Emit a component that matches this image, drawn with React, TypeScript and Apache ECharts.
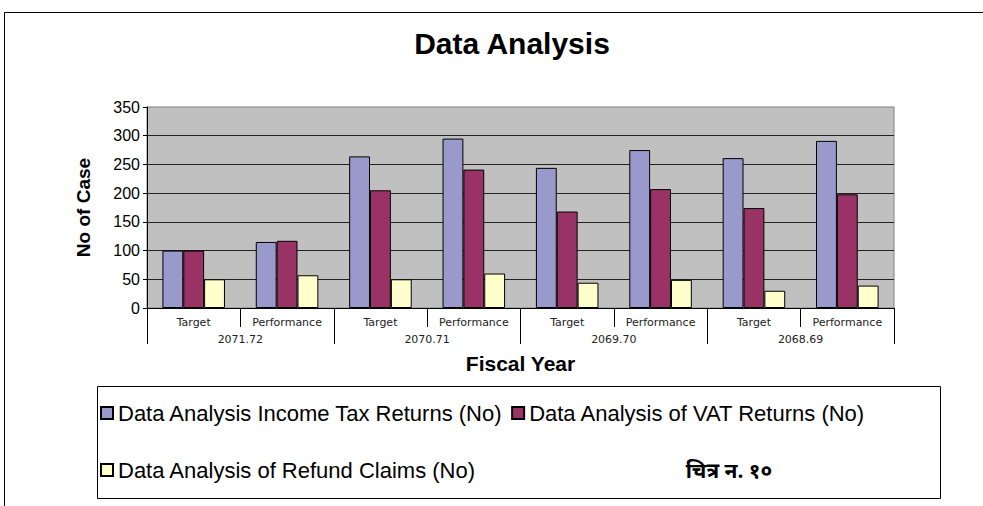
import React, { useEffect, useRef } from "react";
import * as echarts from "echarts";

const categories = ["Target", "Performance", "Target", "Performance", "Target", "Performance", "Target", "Performance"];
const fiscalYears = ["2071.72", "2070.71", "2069.70", "2068.69"];
const seriesNames = [
  "Data Analysis Income Tax Returns (No)",
  "Data Analysis of VAT Returns (No)",
  "Data Analysis of Refund Claims (No)",
];
const incomeTax = [100, 115, 264, 295, 244, 275, 261, 291];
const vatReturns = [100, 117, 205, 241, 168, 207, 174, 198];
const refundClaims = [50, 57, 50, 60, 44, 49, 30, 39];
const yTicks = { min: 0, max: 350, interval: 50 };
const titleText = "Data Analysis";
const yAxisTitle = "No of Case";
const xAxisTitle = "Fiscal Year";
const figureText = "चित्र न. १०";

const FONT = "'Liberation Sans', Arial, sans-serif";
const colors = ["#9999CC", "#993366", "#FFFFCC"];

export default function App() {
  const ref = useRef<HTMLDivElement>(null);
  useEffect(() => {
    if (!ref.current) return;
    const chart = echarts.init(ref.current, undefined, { renderer: "svg" });
    const values = [incomeTax, vatReturns, refundClaims];
    chart.setOption({
      animation: false,
      backgroundColor: "#fff",
      textStyle: { fontFamily: FONT },
      title: {
        text: titleText,
        left: 512,
        top: 28,
        padding: 0,
        textAlign: "center",
        textStyle: { fontFamily: FONT, fontSize: 30, fontWeight: "bold", color: "#000" },
      },
      grid: {
        left: 147,
        right: 89,
        top: 107,
        bottom: 198,
        show: true,
        backgroundColor: "#C0C0C0",
        borderColor: "#808080",
        borderWidth: 1,
      },
      legend: [
        {
          data: [seriesNames[0], seriesNames[1]],
          left: 100,
          top: 402,
          padding: 0,
          itemWidth: 12,
          itemHeight: 12,
          itemGap: 8,
          icon: "rect",
          textStyle: { fontFamily: FONT, fontSize: 22, color: "#000" },
        },
        {
          data: [seriesNames[2]],
          left: 100,
          top: 459,
          padding: 0,
          itemWidth: 12,
          itemHeight: 12,
          icon: "rect",
          textStyle: { fontFamily: FONT, fontSize: 22, color: "#000" },
        },
      ],
      xAxis: [
        {
          type: "category",
          data: categories,
          position: "bottom",
          axisLine: { show: true, lineStyle: { color: "#000", width: 1 } },
          axisTick: { show: true, interval: 0, length: 19, lineStyle: { color: "#000" } },
          axisLabel: {
            interval: 0,
            margin: 9,
            fontSize: 11,
            fontFamily: "'DejaVu Sans', sans-serif",
            color: "#222",
          },
        },
        {
          type: "category",
          data: fiscalYears,
          position: "bottom",
          axisLine: { show: false },
          axisTick: { show: true, interval: 0, length: 36, lineStyle: { color: "#000" } },
          axisLabel: {
            interval: 0,
            margin: 26,
            fontSize: 11,
            fontFamily: "'DejaVu Sans', sans-serif",
            color: "#222",
          },
          name: xAxisTitle,
          nameLocation: "middle",
          nameGap: 45,
          nameTextStyle: { fontFamily: FONT, fontSize: 21, fontWeight: "bold", color: "#000" },
        },
      ],
      yAxis: {
        type: "value",
        min: yTicks.min,
        max: yTicks.max,
        interval: yTicks.interval,
        axisLine: { show: true, lineStyle: { color: "#000" } },
        axisTick: { show: true, length: 4, lineStyle: { color: "#000" } },
        axisLabel: { fontFamily: FONT, fontSize: 16, color: "#000", margin: 7 },
        splitLine: { show: true, showMaxLine: false, lineStyle: { color: "#222", width: 1 } },
        name: yAxisTitle,
        nameLocation: "middle",
        nameGap: 54,
        nameTextStyle: { fontFamily: FONT, fontSize: 19, fontWeight: "bold", color: "#000" },
      },
      series: values.map((v, i) => ({
        name: seriesNames[i],
        type: "bar",
        xAxisIndex: 0,
        data: v,
        barGap: "0%",
        barCategoryGap: "33%",
        itemStyle: { color: colors[i], borderColor: "#000", borderWidth: 1 },
      })),
      graphic: [
        {
          type: "rect",
          shape: { x: 4.5, y: 12.5, width: 1100, height: 700 },
          style: { fill: "none", stroke: "#000", lineWidth: 1 },
          silent: true,
          z: -1,
        },
        {
          type: "rect",
          shape: { x: 97.5, y: 386.5, width: 843, height: 112 },
          style: { fill: "none", stroke: "#000", lineWidth: 1 },
          silent: true,
        },
        {
          type: "text",
          x: 729,
          y: 470,
          style: {
            text: figureText,
            fontSize: 21,
            fontWeight: "bold",
            fontFamily: "'Noto Sans', 'DejaVu Sans', sans-serif",
            fill: "#000",
            align: "center",
            verticalAlign: "middle",
          },
        },
      ],
    });
    return () => chart.dispose();
  }, []);
  return (
    <div
      ref={ref}
      style={{ position: "fixed", left: 0, top: 0, width: 983, height: 506 }}
    />
  );
}
